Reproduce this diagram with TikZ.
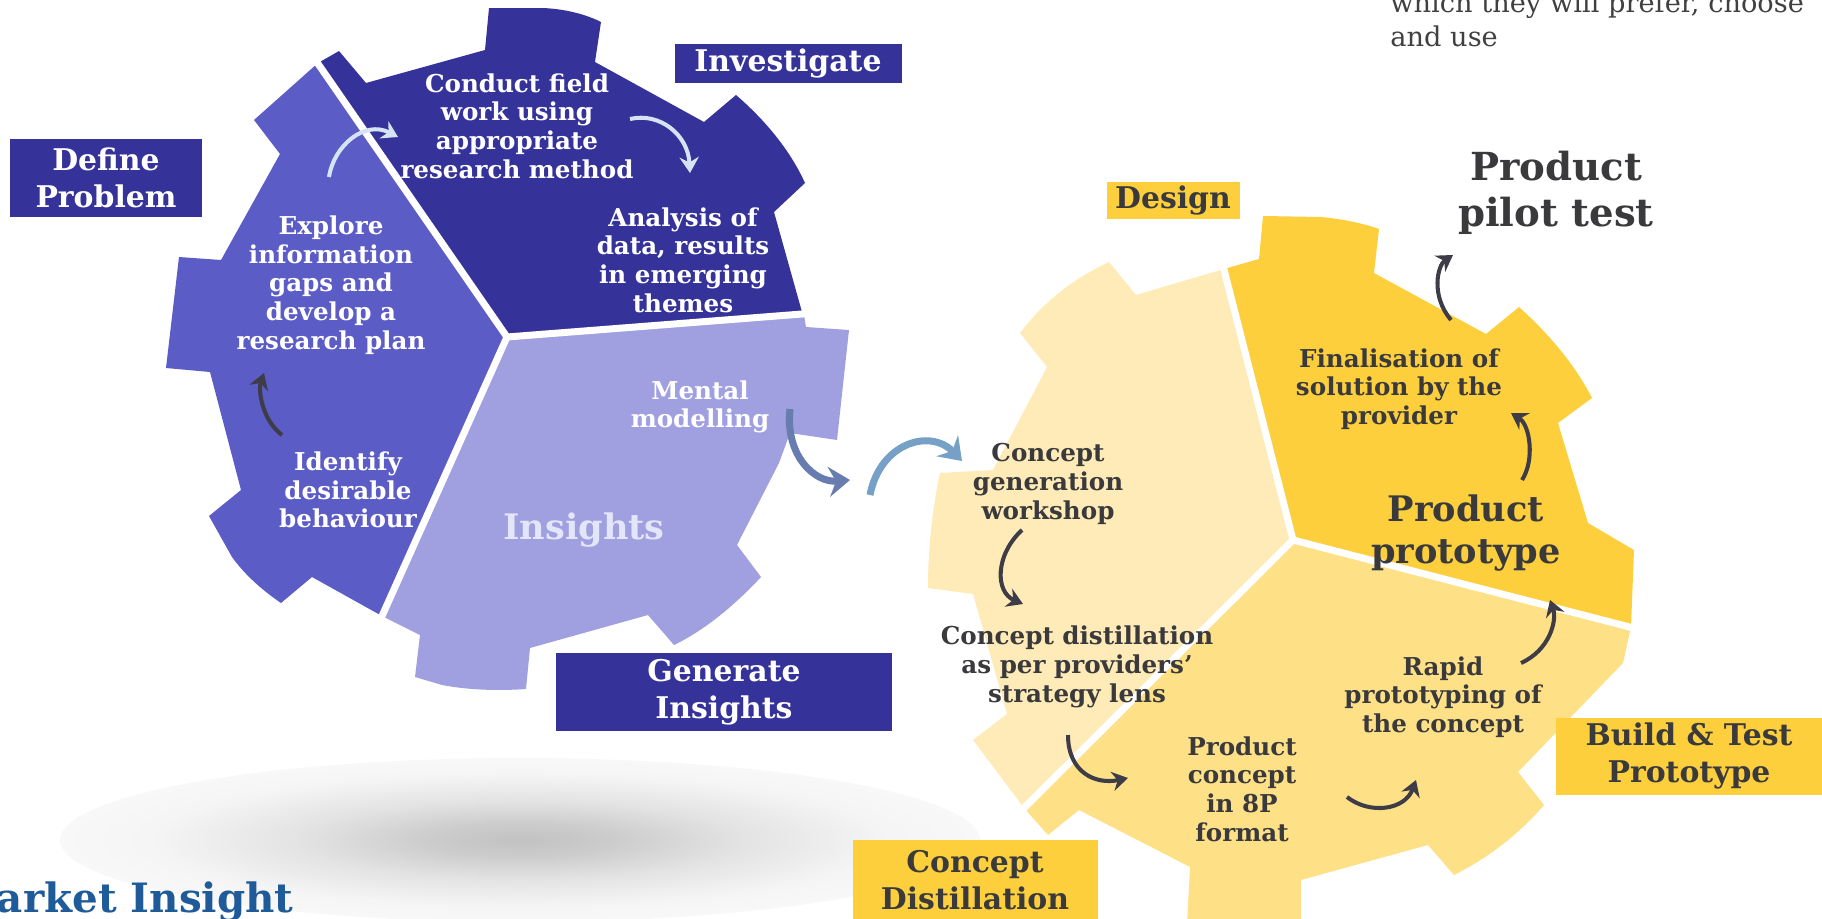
\documentclass[tikz,border=0pt]{standalone}
\usepackage{fontspec}
\setmainfont{DejaVu Serif}
\usepackage{tikz}
\usetikzlibrary{arrows.meta}
\usepackage{xcolor}
\definecolor{gearnavy}{RGB}{53,51,153}
\definecolor{gearmid}{RGB}{91,92,197}
\definecolor{gearlight}{RGB}{160,159,223}
\definecolor{insightpale}{RGB}{226,230,248}
\definecolor{geargold}{RGB}{253,207,61}
\definecolor{gearyellow}{RGB}{254,224,135}
\definecolor{gearcream}{RGB}{254,235,184}
\definecolor{inkdark}{RGB}{58,58,60}
\definecolor{arrowdark}{RGB}{62,60,70}
\definecolor{arrowpale}{RGB}{214,227,244}
\definecolor{linkblue}{RGB}{104,125,175}
\definecolor{linksky}{RGB}{118,160,198}
\definecolor{marketblue}{RGB}{31,91,153}
\definecolor{bodygray}{RGB}{64,64,64}
\tikzstyle{gearnote} = [align=center, inner sep=0pt, font=\fontsize{14}{16.3}\selectfont\bfseries]
\tikzstyle{tag} = [rectangle, inner sep=0pt, align=center, font=\fontsize{17}{21}\selectfont\bfseries]
\tikzstyle{bignote} = [align=center, inner sep=0pt, text=inkdark, font=\fontsize{20}{24}\selectfont\bfseries]
\tikzstyle{gap} = [white, line width=1.4mm]
\tikzstyle{swoosh} = [line width=2.3pt, -{Stealth[length=9pt,width=11pt,inset=3pt]}, color=arrowdark]
\tikzstyle{swooshpale} = [swoosh, color=arrowpale]
\tikzstyle{link} = [line width=4pt, -{Stealth[length=12pt,width=17pt,inset=4pt]}]
\pgfdeclareradialshading{floorshade}{\pgfpoint{0bp}{0bp}}{color(0bp)=(black!24); color(5bp)=(black!20); color(12bp)=(black!11); color(20bp)=(black!4); color(30bp)=(black!1.5); color(40bp)=(black!0.5); color(50bp)=(white)}

\begin{document}
\begin{tikzpicture}[x=0.2mm, y=-0.2mm]
    \clip (0,0) rectangle (1822,919);

    % floor shadow
    \shade[shading=floorshade] (520,840) ellipse [x radius=460, y radius=82];

    % left gear
    \fill[gearnavy] (507,337) -- (318,63) -- (339,51) -- (366,83) -- (485,50) -- (489,8) -- (543,8) .. controls (565,9) and (585,14) .. (601,22) -- (595,62) -- (704,122) -- (736,95) .. controls (765,120) and (790,150) .. (805,183) -- (774,212) -- (802,312) -- cycle;
    \fill[gearmid] (507,337) -- (382,616) -- (312,577) -- (281,603) .. controls (262,590) and (245,575) .. (232,557) -- (209,516) -- (241,490) -- (210,372) -- (166,368) -- (179,257) -- (221,260) -- (280,154) -- (254,120) -- (318,63) -- cycle;
    \fill[gearlight] (507,337) -- (804,315) -- (806,327) -- (849,330) -- (837,440) -- (790,433) -- (779,463) -- (737,545) -- (761,577) .. controls (735,605) and (705,630) .. (674,645) -- (648,615) -- (530,648) -- (526,689) .. controls (498,691) and (468,690) .. (442,685) -- (415,677) -- (420,635) -- (382,616) -- cycle;
    \draw[gap] (507,337) -- (312,55);
    \draw[gap] (507,337) -- (815,313);
    \draw[gap] (507,337) -- (378,625);

    % right gear
    \fill[gearcream] (1293,540) -- (1024,808) -- (973,740) -- (1007,714) -- (973,594) -- (928,588) .. controls (928,545) and (933,505) .. (940,473) -- (993,470) -- (1047,367) -- (1020,333) .. controls (1045,300) and (1075,278) .. (1109,262) -- (1136,295) -- (1224,269) -- cycle;
    \fill[geargold] (1293,540) -- (1224,269) -- (1259,259) -- (1263,216) -- (1321,217) .. controls (1342,219) and (1362,223) .. (1379,229) -- (1374,273) -- (1486,334) -- (1519,307) .. controls (1550,335) and (1575,365) .. (1592,398) -- (1558,423) -- (1588,523) -- (1634,550) -- (1631,627) -- cycle;
    \fill[gearyellow] (1293,540) -- (1631,627) -- (1623,663) -- (1518,772) -- (1544,805) .. controls (1518,835) and (1488,858) .. (1454,875) -- (1428,845) -- (1301,880) -- (1301,925) -- (1187,925) -- (1190,867) -- (1079,810) -- (1048,835) -- (1024,808) -- cycle;
    \draw[gap] (1293,540) -- (1219,250);
    \draw[gap] (1293,540) -- (1645,631);
    \draw[gap] (1293,540) -- (1012,820);

    % stage tags
    \node[tag, fill=gearnavy, text=white, minimum width=45.4mm, minimum height=7.8mm] (investigate) at (788,63) {Investigate};
    \node[tag, fill=gearnavy, text=white, minimum width=38.4mm, minimum height=15.6mm] (define) at (106,178) {Define\\Problem};
    \node[tag, fill=gearnavy, text=white, minimum width=67.2mm, minimum height=15.6mm] (generate) at (724,692) {Generate\\Insights};
    \node[tag, fill=geargold, text=inkdark, minimum width=26.6mm, minimum height=7.4mm] (design) at (1173,200) {Design};
    \node[tag, fill=geargold, text=inkdark, minimum width=53.2mm, minimum height=15.4mm] (build) at (1689,756) {Build \& Test\\Prototype};
    \node[tag, fill=geargold, text=inkdark, minimum width=49mm, minimum height=16mm] (concept) at (975,880) {Concept\\Distillation};

    % left gear notes
    \node[gearnote, text=white] (conduct) at (517,126) {Conduct field\\work using\\appropriate\\research method};
    \node[gearnote, text=white] (analysis) at (683,260) {Analysis of\\data, results\\in emerging\\themes};
    \node[gearnote, text=white] (explore) at (331,285) {Explore\\information\\gaps and\\develop a\\research plan};
    \node[gearnote, text=white] (identify) at (348,490) {Identify\\desirable\\behaviour};
    \node[gearnote, text=white] (mental) at (700,407) {Mental\\modelling};
    \node[bignote, text=insightpale] (insights) at (584,530) {Insights};

    % right gear notes
    \node[gearnote, text=inkdark] (workshop) at (1048,484) {Concept\\generation\\workshop};
    \node[gearnote, text=inkdark] (distil) at (1077,667) {Concept distillation\\as per providers'\\strategy lens};
    \node[gearnote, text=inkdark] (eightp) at (1242,789) {Product\\concept\\in 8P\\format};
    \node[gearnote, text=inkdark] (rapid) at (1443,697) {Rapid\\prototyping of\\the concept};
    \node[gearnote, text=inkdark] (final) at (1399,389) {Finalisation of\\solution by the\\provider};
    \node[bignote] (prototype) at (1466,533) {Product\\prototype};
    \node[bignote, font=\fontsize{22}{26}\selectfont\bfseries] (pilot) at (1556,193) {Product\\pilot test};

    % loose texts
    \node[anchor=base east, inner sep=0pt, text=marketblue, font=\fontsize{23}{27}\selectfont\bfseries] (market) at (294,912) {Market Insight};
    \node[anchor=south west, align=left, inner sep=0pt, text=bodygray, font=\fontsize{15.5}{19.4}\selectfont] (which) at (1390,47) {which they will prefer, choose\\and use};

    % arrow ends
    \coordinate (exploreout) at (329,177);
    \coordinate (conductin) at (398,137);
    \coordinate (conductout) at (630,119);
    \coordinate (analysisin) at (690,173);
    \coordinate (identifyout) at (282,435);
    \coordinate (explorein) at (264,373);
    \coordinate (mentalout) at (790,409);
    \coordinate (mentalin) at (850,480);
    \coordinate (designout) at (870,495);
    \coordinate (designin) at (962,461);
    \coordinate (workshopout) at (1022,530);
    \coordinate (distilin) at (1023,604);
    \coordinate (distilout) at (1068,735);
    \coordinate (eightpin) at (1128,778);
    \coordinate (eightpout) at (1347,797);
    \coordinate (rapidin) at (1416,780);
    \coordinate (rapidout) at (1521,663);
    \coordinate (prototypein) at (1550,600);
    \coordinate (prototypeout) at (1522,480);
    \coordinate (finalin) at (1511,413);
    \coordinate (finalout) at (1451,320);
    \coordinate (pilotin) at (1453,255);

    \draw[swooshpale] (exploreout) .. controls (334,145) and (365,120) .. (conductin);
    \draw[swooshpale] (conductout) .. controls (660,112) and (688,135) .. (analysisin);
    \draw[swoosh] (identifyout) .. controls (262,420) and (258,390) .. (explorein);
    \draw[link, color=linkblue] (mentalout) .. controls (785,456) and (815,483) .. (mentalin);
    \draw[link, color=linksky] (designout) .. controls (880,443) and (930,428) .. (designin);
    \draw[swoosh] (workshopout) .. controls (995,555) and (995,592) .. (distilin);
    \draw[swoosh] (distilout) .. controls (1068,772) and (1095,785) .. (eightpin);
    \draw[swoosh] (eightpout) .. controls (1370,815) and (1405,810) .. (rapidin);
    \draw[swoosh] (rapidout) .. controls (1550,650) and (1557,620) .. (prototypein);
    \draw[swoosh] (prototypeout) .. controls (1535,460) and (1530,425) .. (finalin);
    \draw[swoosh] (finalout) .. controls (1430,295) and (1438,265) .. (pilotin);
\end{tikzpicture}
\end{document}
